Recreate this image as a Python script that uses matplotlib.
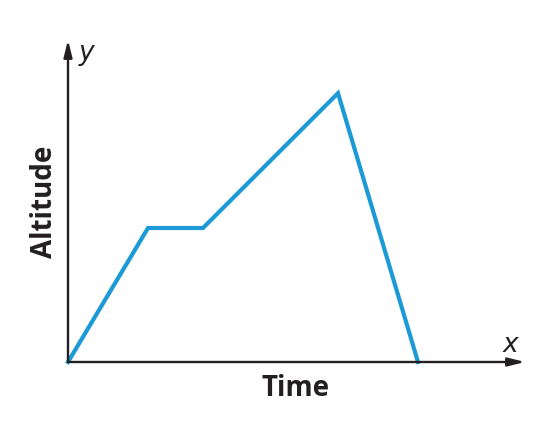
import matplotlib
matplotlib.use("Agg")
import matplotlib.pyplot as plt

# data (arbitrary units, 1 unit = 40 px)
time = [0, 2, 3.375, 6.75, 8.75]
altitude = [0, 3.35, 3.35, 6.72, 0]

W, H = 552, 433
fig = plt.figure(figsize=(W / 100, H / 100), dpi=100)
fig.patch.set_facecolor("white")

x0, y0 = 68, 362
ax = fig.add_axes([x0 / W, (H - y0) / H, (525 - x0) / W, (y0 - 40) / H])
ax.set_xlim(0, (525 - x0) / 40)
ax.set_ylim(0, (y0 - 40) / 40)
ax.axis("off")

ax.plot(time, altitude, color="#1b9ad6", lw=3.0, solid_joinstyle="miter",
        clip_on=False, zorder=3)

# axes with arrows
axcol = "#231f20"
ax.annotate("", xy=(1.0, 0), xytext=(0, 0), xycoords="axes fraction",
            arrowprops=dict(arrowstyle="-|>,head_length=1.0,head_width=0.25",
                            color=axcol, lw=1.7, shrinkA=0, shrinkB=0))
ax.annotate("", xy=(0, 1.0), xytext=(0, 0), xycoords="axes fraction",
            arrowprops=dict(arrowstyle="-|>,head_length=1.0,head_width=0.25",
                            color=axcol, lw=1.7, shrinkA=0, shrinkB=0))

fig.text(86 / W, 1 - 53 / H, "y", fontsize=19, style="italic",
         color=axcol, ha="center", va="center")
fig.text(510 / W, 1 - 345 / H, "x", fontsize=19, style="italic",
         color=axcol, ha="center", va="center")

fig.text(296 / W, 1 - 388 / H, "Time", fontsize=20, fontweight="bold",
         family="Open Sans", color=axcol, ha="center", va="center")
fig.text(45 / W, 1 - 202 / H, "Altitude", fontsize=20, fontweight="bold",
         family="Open Sans", color=axcol, ha="center", va="center", rotation=90)

fig.savefig("out.png", dpi=100, facecolor="white")
